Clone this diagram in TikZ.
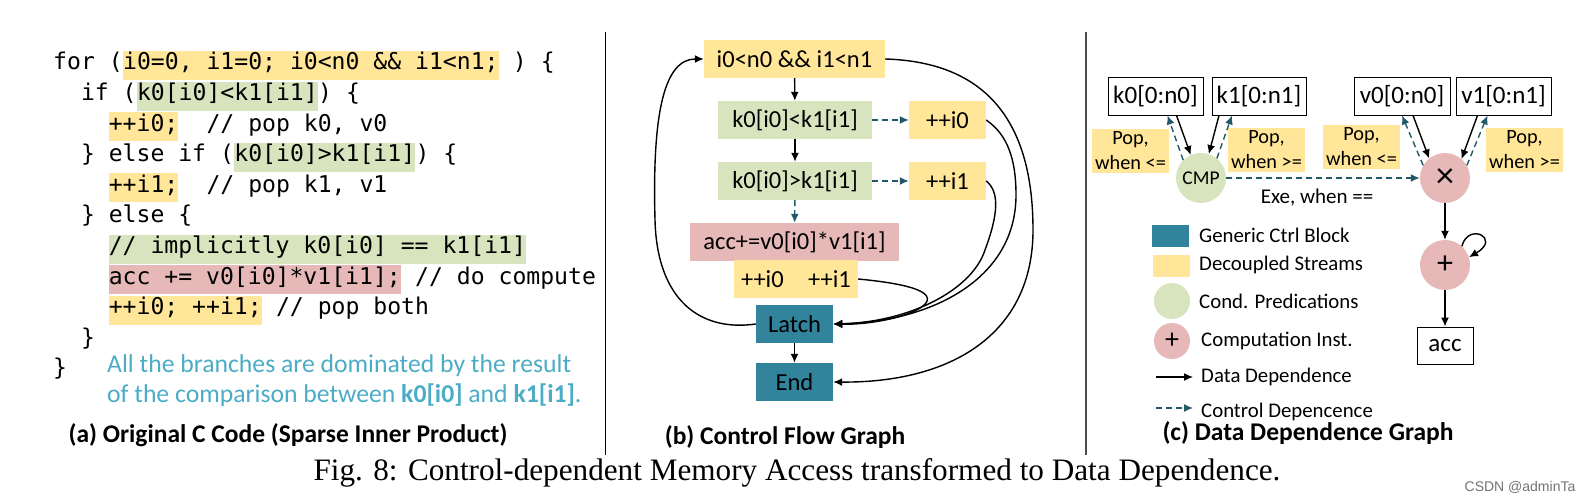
\documentclass[tikz,border=0pt]{standalone}
\usepackage{fontspec}
\setmainfont{Carlito}
\newfontfamily\codefont{DejaVu Sans Mono}
\newfontfamily\capfont{Liberation Serif}
\newfontfamily\wmfont{Liberation Sans}
\usetikzlibrary{arrows.meta}

\definecolor{strm}{HTML}{FFE699}
\definecolor{pred}{HTML}{D7E4BD}
\definecolor{comp}{HTML}{E6B9B8}
\definecolor{ctrl}{HTML}{31849B}
\definecolor{ctrldash}{HTML}{215968}
\definecolor{note}{HTML}{4BACC6}

\begin{document}
\begin{tikzpicture}[x=1pt,y=-1pt,
    code/.style={font=\codefont\fontsize{23.1}{26}\selectfont, inner sep=0pt, anchor=base west},
    hl/.style={code, fill=#1, text height=19pt, text depth=10pt},
    box/.style={inner sep=0pt, minimum height=38pt, font=\fontsize{24.5}{28}\selectfont},
    strmbox/.style={box, fill=strm},
    predbox/.style={box, fill=pred},
    compbox/.style={box, fill=comp},
    ctrlbox/.style={box, fill=ctrl, minimum width=77pt},
    arrbox/.style={draw, line width=0.9pt, inner sep=0pt, minimum height=38pt, font=\fontsize{25}{28}\selectfont},
    popbox/.style={fill=strm, inner sep=0pt, minimum width=77pt, minimum height=44pt, align=center, font=\fontsize{20.3}{25}\selectfont},
    op/.style={circle, inner sep=0pt, minimum size=50pt},
    lgtext/.style={anchor=west, inner sep=0pt, font=\fontsize{20.8}{24}\selectfont},
    subcap/.style={font=\bfseries\fontsize{25.5}{28}\selectfont},
    darr/.style={-{Latex[length=9pt,width=8pt]}, line width=1.4pt},
    carr/.style={-{Latex[length=9pt,width=8pt]}, ctrldash, line width=1.4pt, dash pattern=on 6pt off 4pt}]
\useasboundingbox (0,0) rectangle (1588,502);

% (a) code
\node[code] (a1) at (53,70) {for (};
\node[hl=strm] (a1h) at (a1.base east) {i0=0, i1=0; i0<n0 \&\& i1<n1;};
\node[code] (a1e) at (a1h.base east) {\ ) \{};
\node[code] (a2) at (80.8,100.6) {if (};
\node[hl=pred] (a2h) at (a2.base east) {k0[i0]<k1[i1]};
\node[code] (a2e) at (a2h.base east) {) \{};
\node[hl=strm] (a3h) at (108.6,131.2) {++i0;};
\node[code] (a3e) at (a3h.base east) {\ \ // pop k0, v0};
\node[code] (a4) at (80.8,161.8) {\} else if (};
\node[hl=pred] (a4h) at (a4.base east) {k0[i0]>k1[i1]};
\node[code] (a4e) at (a4h.base east) {) \{};
\node[hl=strm] (a5h) at (108.6,192.4) {++i1;};
\node[code] (a5e) at (a5h.base east) {\ \ // pop k1, v1};
\node[code] (a6) at (80.8,223) {\} else \{};
\node[hl=pred] (a7h) at (108.6,253.6) {// implicitly k0[i0] == k1[i1]};
\node[hl=comp] (a8h) at (108.6,284.2) {acc += v0[i0]*v1[i1];};
\node[code] (a8e) at (a8h.base east) {\ // do compute};
\node[hl=strm] (a9h) at (108.6,314.8) {++i0; ++i1;};
\node[code] (a9e) at (a9h.base east) {\ // pop both};
\node[code] (a10) at (80.8,345.4) {\}};
\node[code] (a11) at (53,376) {\}};
\node[anchor=west, inner sep=0pt, align=left, text=note, font=\fontsize{25.7}{30}\selectfont] (anote) at (107,381)
  {All the branches are dominated by the result\\of the comparison between \textbf{k0[i0]} and \textbf{k1[i1]}.};
\node[subcap] (capa) at (288,435) {(a) Original C Code (Sparse Inner Product)};

\draw[line width=1.3pt] (605.5,32) -- (605.5,455);

% (b) control flow graph
\node[strmbox, minimum width=181pt] (cond) at (794.5,59) {i0<n0 \&\& i1<n1};
\node[predbox, minimum width=154pt] (lt) at (795,120) {k0[i0]<k1[i1]};
\node[strmbox, minimum width=77pt] (inc0) at (947.5,120) {++i0};
\node[predbox, minimum width=154pt] (gt) at (795,181) {k0[i0]>k1[i1]};
\node[strmbox, minimum width=77pt] (inc1) at (947.5,181) {++i1};
\node[compbox, minimum width=209pt] (acc) at (794.5,242) {acc+=v0[i0]*v1[i1]};
\node[strmbox, minimum width=124pt] (incb) at (796,279) {++i0\quad ++i1};
\node[ctrlbox] (latch) at (794.5,324) {Latch};
\node[ctrlbox] (end) at (794.5,382) {End};
\node[subcap] (capb) at (785,437) {(b) Control Flow Graph};

\draw[darr] (cond) -- (lt);
\draw[darr] (lt) -- (gt);
\draw[carr] (lt) -- (inc0);
\draw[carr] (gt) -- (inc1);
\draw[carr] (gt) -- (acc);
\draw[darr] (latch) -- (end);
\draw[darr] (latch.west) .. controls (700,332) and (657,300) .. (655,220)
  .. controls (652,110) and (665,59) .. (cond.west);
\draw[darr] (cond.east) .. controls (985,62) and (1033,120) .. (1033,230)
  .. controls (1033,335) and (950,383) .. (end.east);
\draw[darr] (inc0.east) .. controls (1008,135) and (1016,160) .. (1016,195)
  .. controls (1016,280) and (930,322) .. (latch.east);
\draw[darr] (inc1.east) .. controls (1000,192) and (998,215) .. (985,250)
  .. controls (972,290) and (910,322) .. (latch.east);
\draw[darr] (incb.east) .. controls (900,283) and (935,290) .. (926,303)
  .. controls (916,316) and (870,325) .. (latch.east);

\draw[line width=1.3pt, black!70] (1086,32) -- (1086,455);

% (c) data dependence graph
\node[arrbox, minimum width=95pt] (k0b) at (1155.5,96) {k0[0:n0]};
\node[arrbox, minimum width=94pt] (k1b) at (1259,96) {k1[0:n1]};
\node[arrbox, minimum width=96pt] (v0b) at (1402,96) {v0[0:n0]};
\node[arrbox, minimum width=95pt] (v1b) at (1503.5,96) {v1[0:n1]};
\node[op, fill=pred, font=\fontsize{19.5}{22}\selectfont] (cmp) at (1201,178) {CMP};
\node[op, fill=comp, font=\fontsize{36}{36}\selectfont] (mul) at (1445,178) {×};
\node[op, fill=comp, font=\fontsize{32}{32}\selectfont] (add) at (1445,265) {+};
\node[arrbox, minimum width=56pt, minimum height=37pt] (accb) at (1445,345.5) {acc};
\node[popbox] (pop0) at (1130.5,151) {Pop,\\when <=};
\node[popbox] (pop1) at (1266.5,150) {Pop,\\when >=};
\node[popbox] (pop2) at (1361.5,147) {Pop,\\when <=};
\node[popbox] (pop3) at (1524.5,150) {Pop,\\when >=};

\draw[darr] ([xshift=21pt]k0b.south) -- (cmp.114);
\draw[carr] (cmp.135) -- ([xshift=12pt]k0b.south);
\draw[darr] ([xshift=-40pt]k1b.south) -- (cmp.72);
\draw[carr] (cmp.51) -- ([xshift=-27pt]k1b.south);
\draw[darr] ([xshift=11pt]v0b.south) -- (mul.129);
\draw[carr] (mul.150) -- (v0b.south);
\draw[darr] ([xshift=-26pt]v1b.south) -- (mul.49);
\draw[carr] (mul.30) -- ([xshift=-16pt]v1b.south);
\draw[carr] (cmp) -- (mul);
\node[font=\fontsize{21}{24}\selectfont] (exe) at (1317,198) {Exe, when ==};
\draw[darr] (mul) -- (add);
\draw[darr] (add) -- (accb);
\draw[darr] (add.48) .. controls (1468,222) and (1502,238) .. (add.18);

% legend
\node[fill=ctrl, minimum width=37pt, minimum height=22pt, inner sep=0pt] (lg1) at (1170.5,236) {};
\node[lgtext] (lg1t) at (1199,235) {Generic Ctrl Block};
\node[fill=strm, minimum width=37pt, minimum height=22pt, inner sep=0pt] (lg2) at (1171.5,266) {};
\node[lgtext] (lg2t) at (1199,265) {Decoupled Streams};
\node[circle, fill=pred, minimum size=36pt, inner sep=0pt] (lg3) at (1172,301) {};
\node[lgtext] (lg3t) at (1199,301) {Cond. Predications};
\node[circle, fill=comp, minimum size=36pt, inner sep=0pt, font=\fontsize{28}{28}\selectfont] (lg4) at (1172,341) {+};
\node[lgtext] (lg4t) at (1201,341) {Computation Inst.};
\coordinate (lg5a) at (1156,377);
\coordinate (lg5b) at (1193,377);
\draw[darr, line width=1.2pt] (lg5a) -- (lg5b);
\node[lgtext] (lg5t) at (1201,377) {Data Dependence};
\coordinate (lg6a) at (1156,408);
\coordinate (lg6b) at (1193,408);
\draw[carr, line width=1.2pt] (lg6a) -- (lg6b);
\node[lgtext] (lg6t) at (1201,412) {Control Depencence};
\node[subcap] (capc) at (1308,433) {(c) Data Dependence Graph};

% figure caption
\node[font=\capfont\fontsize{31.2}{33}\selectfont] (figcap) at (797,473)
  {Fig. 8: Control-dependent Memory Access transformed to Data Dependence.};
\node[font=\wmfont\fontsize{14}{16}\selectfont, text=black!55] (wm) at (1520,487) {CSDN @adminTa};
\end{tikzpicture}
\end{document}
